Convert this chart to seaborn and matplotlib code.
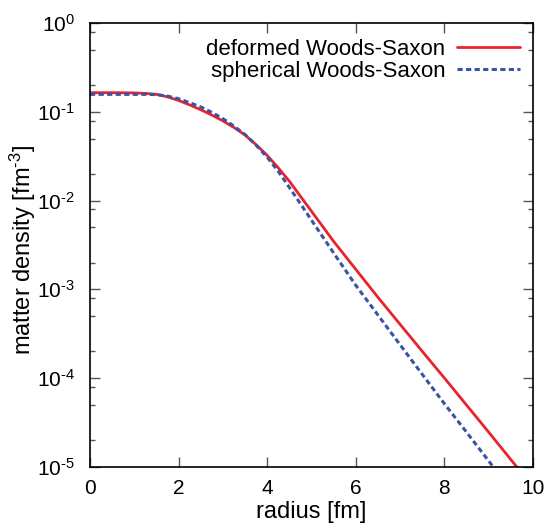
import numpy as np
import pandas as pd
import matplotlib
matplotlib.use("Agg")
import matplotlib.pyplot as plt
import matplotlib.ticker as mticker
import seaborn as sns

# Data
r_deformed = [0.0, 0.5, 1.0, 1.25, 1.5, 1.75, 2.0, 2.25, 2.5, 2.75, 3.0, 3.25, 3.5,
              3.75, 4.0, 4.25, 4.5, 4.75, 5.0, 5.5, 6.0, 6.5, 7.0, 7.5, 8.0, 8.5,
              9.0, 9.63]
rho_deformed = [0.165, 0.165, 0.164, 0.162, 0.158, 0.148, 0.135, 0.120, 0.106,
                0.0923, 0.0794, 0.0668, 0.0550, 0.0427, 0.0324, 0.0234, 0.0166,
                0.0112, 7.59e-3, 3.47e-3, 1.68e-3, 8.13e-4, 4.03e-4, 2.0e-4,
                1.0e-4, 4.95e-5, 2.45e-5, 1.0e-5]

r_spherical = [0.0, 0.5, 1.0, 1.25, 1.5, 1.75, 2.0, 2.25, 2.5, 2.75, 3.0, 3.25, 3.5,
               3.75, 4.0, 4.25, 4.5, 4.75, 5.0, 5.5, 6.0, 6.5, 7.0, 7.5, 8.0, 8.5,
               9.0, 9.1]
rho_spherical = [0.158, 0.158, 0.158, 0.158, 0.157, 0.151, 0.141, 0.127, 0.114,
                 0.0989, 0.0841, 0.0692, 0.0556, 0.0422, 0.0309, 0.0214, 0.0141,
                 9.23e-3, 6.03e-3, 2.57e-3, 1.11e-3, 5.13e-4, 2.37e-4, 1.10e-4,
                 5.13e-5, 2.45e-5, 1.16e-5, 1.0e-5]

label_deformed = "deformed Woods-Saxon"
label_spherical = "spherical Woods-Saxon"
x_ticks = [0, 2, 4, 6, 8, 10]
y_major = [1e-5, 1e-4, 1e-3, 1e-2, 1e-1, 1e0]
y_major_labels = [r"$\mathdefault{10^{\text{-5}}}$", r"$\mathdefault{10^{\text{-4}}}$",
                  r"$\mathdefault{10^{\text{-3}}}$", r"$\mathdefault{10^{\text{-2}}}$",
                  r"$\mathdefault{10^{\text{-1}}}$", r"$\mathdefault{10^{0}}$"]

df_def = pd.DataFrame({"r": r_deformed, "rho": rho_deformed})
df_sph = pd.DataFrame({"r": r_spherical, "rho": rho_spherical})

sns.set_theme(style="ticks")
plt.rcParams["font.family"] = ["Liberation Sans", "DejaVu Sans"]
plt.rcParams["mathtext.fontset"] = "custom"
plt.rcParams["mathtext.rm"] = "Liberation Sans"
plt.rcParams["mathtext.it"] = "Liberation Sans:italic"
plt.rcParams["mathtext.bf"] = "Liberation Sans:bold"
for key in ["text.color", "axes.labelcolor", "xtick.labelcolor", "ytick.labelcolor"]:
    plt.rcParams[key] = "black"

fig = plt.figure(figsize=(5.59, 5.27), dpi=100)
ax = fig.add_axes([0.161, 0.1144, 0.7925, 0.8414])

sns.lineplot(data=df_def, x="r", y="rho", ax=ax, color="#E8232B", linewidth=2.0,
             label=label_deformed, estimator=None, sort=False)
sns.lineplot(data=df_sph, x="r", y="rho", ax=ax, color="#3A54A4", linewidth=2.2,
             label=label_spherical, estimator=None, sort=False,
             linestyle=(0, (1.7, 1.1)))

ax.set_yscale("log")
ax.set_xlim(0, 10)
ax.set_ylim(1e-5, 1)
ax.set_xticks(x_ticks)
ax.set_xticklabels([str(t) for t in x_ticks])
ax.yaxis.set_major_locator(mticker.FixedLocator(y_major))
ax.yaxis.set_major_formatter(mticker.FixedFormatter(y_major_labels))
minors = []
for e in range(-5, 0):
    for m in (2, 5, 8):
        minors.append(m * 10.0 ** e)
ax.yaxis.set_minor_locator(mticker.FixedLocator(minors))
ax.yaxis.set_minor_formatter(mticker.NullFormatter())
ax.xaxis.set_minor_locator(mticker.NullLocator())

ax.tick_params(axis="both", which="major", direction="in", length=7, width=1.0,
               top=True, right=True, labelsize=15, color="#555555")
ax.tick_params(axis="x", which="major", pad=9)
ax.tick_params(axis="y", which="major", pad=11)
ax.tick_params(axis="y", which="minor", direction="in", length=3.8, width=1.0,
               left=True, right=True, color="#555555")
for s in ax.spines.values():
    s.set_linewidth(1.2)
    s.set_color("black")

ax.set_xlabel("radius [fm]", fontsize=17, labelpad=2)
ax.set_ylabel("matter density [fm$^{\\text{-3}}$]", fontsize=17)
ax.yaxis.set_label_coords(-0.117, 0.49)

ax.legend(loc="upper right", frameon=False, markerfirst=False, fontsize=16,
          handlelength=2.8, handletextpad=0.55, labelspacing=0.05,
          borderaxespad=0.4, bbox_to_anchor=(1.01, 1.005))

fig.savefig("out.png", dpi=100)
